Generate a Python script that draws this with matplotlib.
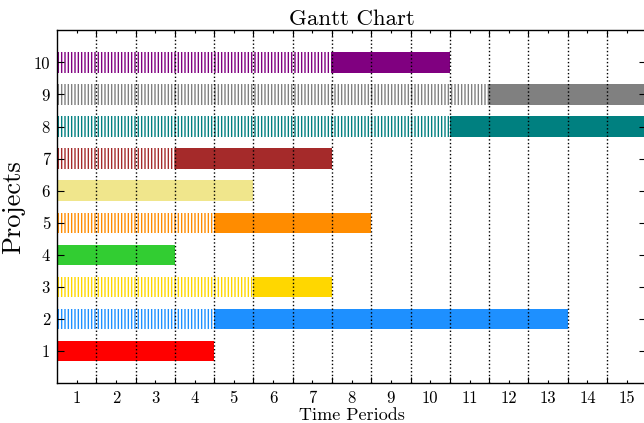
import matplotlib
matplotlib.use("Agg")
import matplotlib.pyplot as plt
import numpy as np

plt.rcParams['font.family'] = ['cmr10', 'DejaVu Serif']
plt.rcParams['mathtext.fontset'] = 'cm'
plt.rcParams['axes.formatter.use_mathtext'] = True
plt.rcParams['hatch.linewidth'] = 1.0

projects = [1, 2, 3, 4, 5, 6, 7, 8, 9, 10]
wait_periods = [0, 4, 5, 0, 4, 0, 3, 10, 11, 7]       # hatched periods starting at period 1
active_start = [1, 5, 6, 1, 5, 1, 4, 11, 12, 8]
active_end = [4, 13, 7, 3, 8, 5, 7, 15, 15, 10]
colors = ['red', 'dodgerblue', 'gold', 'limegreen', 'darkorange',
          'khaki', 'brown', 'teal', 'gray', 'purple']
periods = list(range(1, 16))

fig = plt.figure(figsize=(6.44, 4.23), dpi=100)
ax = fig.add_axes([57 / 644, 39.7 / 423, (646.3 - 57) / 644, (392.7 - 39.7) / 423])

h = 0.64
for p, w, s, e, c in zip(projects, wait_periods, active_start, active_end, colors):
    if w > 0:
        ax.barh(p, w, left=0.5, height=h, facecolor='none', edgecolor=c,
                linewidth=0, hatch='|||||')
    ax.barh(p, e - s + 1, left=s - 0.5, height=h, color=c, linewidth=0)

ax.set_xlim(0.5, 15.5)
ax.set_ylim(0, 11)

ax.set_xticks(np.arange(1.5, 15.5, 1.0))
ax.set_xticklabels([])
ax.set_xticks(periods, minor=True)
ax.set_xticklabels([str(v) for v in periods], minor=True)
ax.set_yticks(projects)
ax.set_yticklabels([str(v) for v in projects])
ax.tick_params(axis='x', which='major', direction='in', top=True, bottom=True, length=4, width=0.8)
ax.tick_params(axis='x', which='minor', direction='in', top=True, bottom=True, length=2, width=0.8,
               labelsize=12, pad=5)
ax.tick_params(axis='y', which='major', direction='in', left=True, right=True, length=5, width=0.8,
               labelsize=12, pad=5)
ax.grid(True, axis='x', which='major', color='black', linestyle=':', linewidth=1.0)
ax.set_axisbelow(False)

for sp in ax.spines.values():
    sp.set_linewidth(1.0)

ax.set_title('Gantt Chart', fontsize=16.5, pad=4)
ax.set_xlabel('Time Periods', fontsize=13, labelpad=1.5)
ax.set_ylabel('Projects', fontsize=19, labelpad=6)

fig.savefig('out.png', dpi=100)
